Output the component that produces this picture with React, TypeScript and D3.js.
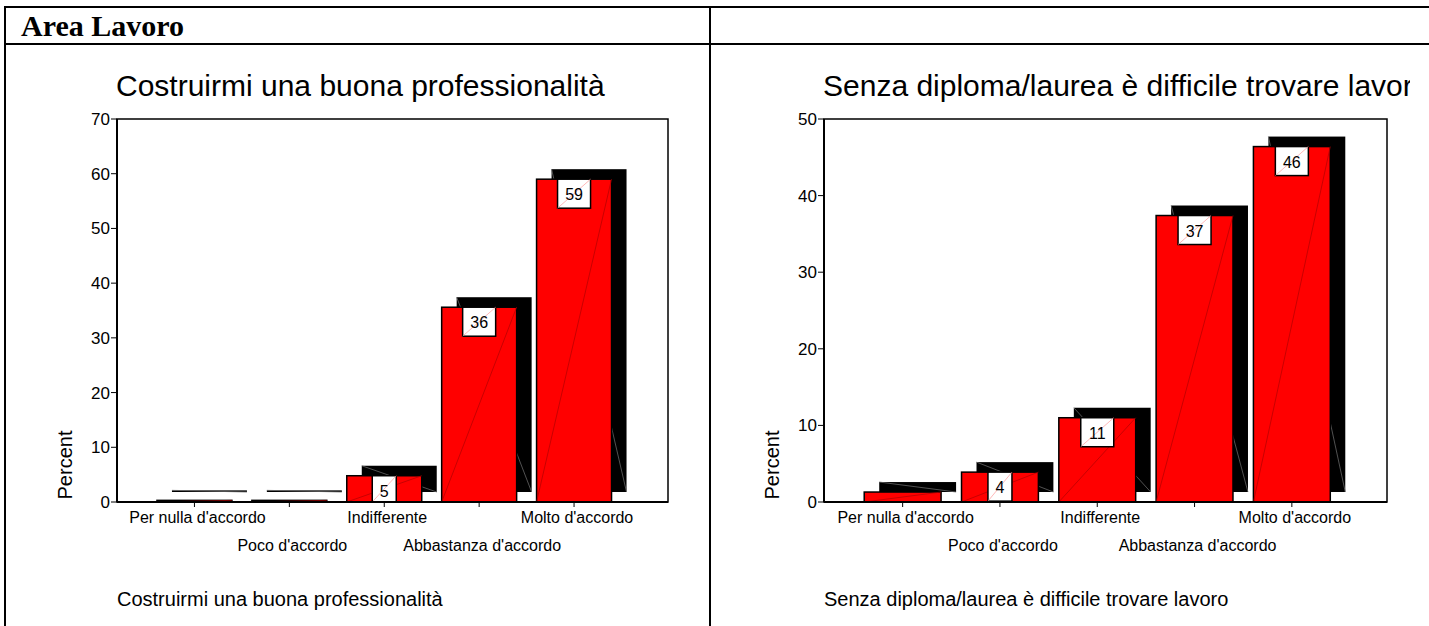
import React from "react";
import * as d3 from "d3";

const categories = ["Per nulla d'accordo", "Poco d'accordo", "Indifferente", "Abbastanza d'accordo", "Molto d'accordo"];
const professionalitaValues = [0.3, 0.3, 4.8, 35.6, 59.0];
const diplomaValues = [1.3, 3.9, 11.0, 37.4, 46.4];
const professionalitaTicks = [0, 10, 20, 30, 40, 50, 60, 70];
const diplomaTicks = [0, 10, 20, 30, 40, 50];
const headerTitle = "Area Lavoro";
const professionalitaTitle = "Costruirmi una buona professionalità";
const diplomaTitle = "Senza diploma/laurea è difficile trovare lavoro";

const SANS = "'Liberation Sans', Arial, sans-serif";
const SERIF = "'Liberation Serif', 'Times New Roman', serif";

type ChartProps = {
  id: string;
  axisX: number;
  frameRight: number;
  values: number[];
  ticks: number[];
  title: string;
  clipRight: number;
};

function Chart({ id, axisX, frameRight, values, ticks, title, clipRight }: ChartProps) {
  const yTop = 119;
  const yBottom = 502;
  const depthX = 15;
  const depthY = 10;
  const maxV = ticks[ticks.length - 1];
  const y = d3.scaleLinear().domain([0, maxV]).range([yBottom, yTop]);
  const x = d3
    .scaleBand<string>()
    .domain(categories)
    .range([axisX + 30, frameRight - 46.5])
    .paddingInner(0.21)
    .paddingOuter(0.105);
  const bw = x.bandwidth();

  return (
    <g clipPath={`url(#clip-${id})`}>
      <defs>
        <clipPath id={`clip-${id}`}>
          <rect x={axisX - 120} y={44} width={clipRight - axisX + 120} height={600} />
        </clipPath>
      </defs>
      <text x={axisX - 1} y={96} fontFamily={SANS} fontSize={30} fill="#000">
        {title}
      </text>
      {/* frame */}
      <rect x={axisX} y={yTop} width={frameRight - axisX} height={yBottom - yTop} fill="#fff" stroke="#000" strokeWidth={1.5} />
      {/* bars */}
      {values.map((v, i) => {
        const bx = x(categories[i])!;
        const top = y(v);
        const h = yBottom - top;
        const backX = bx + depthX;
        const backTop = top - depthY;
        const backBottom = yBottom - depthY;
        const label = Math.round(v).toString();
        const showLabel = v >= 3;
        const boxW = label.length === 1 ? 24 : 33;
        const boxH = Math.min(29, h);
        const boxX = bx + bw / 2 - boxW / 2;
        return (
          <g key={i}>
            <rect x={backX} y={backTop} width={bw} height={backBottom - backTop} fill="#000" />
            <line x1={backX} y1={backTop} x2={backX + bw} y2={backBottom} stroke="#666" strokeWidth={0.8} />
            <rect x={bx} y={top} width={bw} height={h} fill="#ff0000" stroke="#000" strokeWidth={1.5} />
            <line x1={bx} y1={yBottom} x2={bx + bw} y2={top} stroke="#b00000" strokeWidth={0.7} />
            {showLabel && (
              <g>
                <rect x={boxX} y={top} width={boxW} height={boxH} fill="#fff" stroke="#000" strokeWidth={1.5} />
                <line x1={boxX} y1={top + boxH} x2={boxX + boxW} y2={top} stroke="#ff9a9a" strokeWidth={0.7} />
                <text
                  x={bx + bw / 2}
                  y={top + Math.min(21, boxH - 5)}
                  textAnchor="middle"
                  fontFamily={SANS}
                  fontSize={16}
                  fill="#000"
                >
                  {label}
                </text>
              </g>
            )}
          </g>
        );
      })}
      {/* axes */}
      <line x1={axisX} y1={yTop} x2={axisX} y2={yBottom} stroke="#000" strokeWidth={2} />
      <line x1={axisX} y1={yBottom} x2={frameRight} y2={yBottom} stroke="#000" strokeWidth={2} />
      {ticks.map((t) => (
        <g key={t}>
          <line x1={axisX - 6} y1={y(t)} x2={axisX} y2={y(t)} stroke="#000" strokeWidth={1} />
          <text x={axisX - 7} y={y(t) + 6} textAnchor="end" fontFamily={SANS} fontSize={17} fill="#000">
            {t}
          </text>
        </g>
      ))}
      {categories.map((c, i) => {
        const cx = x(c)! + bw / 2;
        return (
          <g key={c}>
            <line x1={cx} y1={yBottom} x2={cx} y2={yBottom + 5} stroke="#000" strokeWidth={1} />
            <text x={cx + 3} y={i % 2 === 0 ? 523 : 551} textAnchor="middle" fontFamily={SANS} fontSize={16} fill="#000">
              {c}
            </text>
          </g>
        );
      })}
      <text
        transform={`translate(${axisX - 45},${465}) rotate(-90)`}
        textAnchor="middle"
        fontFamily={SANS}
        fontSize={20}
        fill="#000"
      >
        Percent
      </text>
      <text x={axisX} y={606} fontFamily={SANS} fontSize={20} fill="#000">
        {title}
      </text>
    </g>
  );
}

export default function App() {
  const W = 1429;
  const H = 626;
  return (
    <svg
      width={W}
      height={H}
      style={{ position: "absolute", left: 0, top: 0, background: "#fff" }}
      xmlns="http://www.w3.org/2000/svg"
    >
      <rect x={0} y={0} width={W} height={H} fill="#fff" />
      {/* table borders */}
      <line x1={4} y1={7} x2={W} y2={7} stroke="#000" strokeWidth={2} />
      <line x1={4} y1={44} x2={W} y2={44} stroke="#000" strokeWidth={2} />
      <line x1={5} y1={6} x2={5} y2={H} stroke="#000" strokeWidth={2} />
      <line x1={710} y1={6} x2={710} y2={H} stroke="#000" strokeWidth={2} />
      <text x={21} y={36} fontFamily={SERIF} fontWeight="bold" fontSize={30} fill="#000">
        {headerTitle}
      </text>
      <Chart
        id="prof"
        axisX={117}
        frameRight={668}
        values={professionalitaValues}
        ticks={professionalitaTicks}
        title={professionalitaTitle}
        clipRight={708}
      />
      <Chart
        id="dipl"
        axisX={824}
        frameRight={1387}
        values={diplomaValues}
        ticks={diplomaTicks}
        title={diplomaTitle}
        clipRight={1410}
      />
    </svg>
  );
}
